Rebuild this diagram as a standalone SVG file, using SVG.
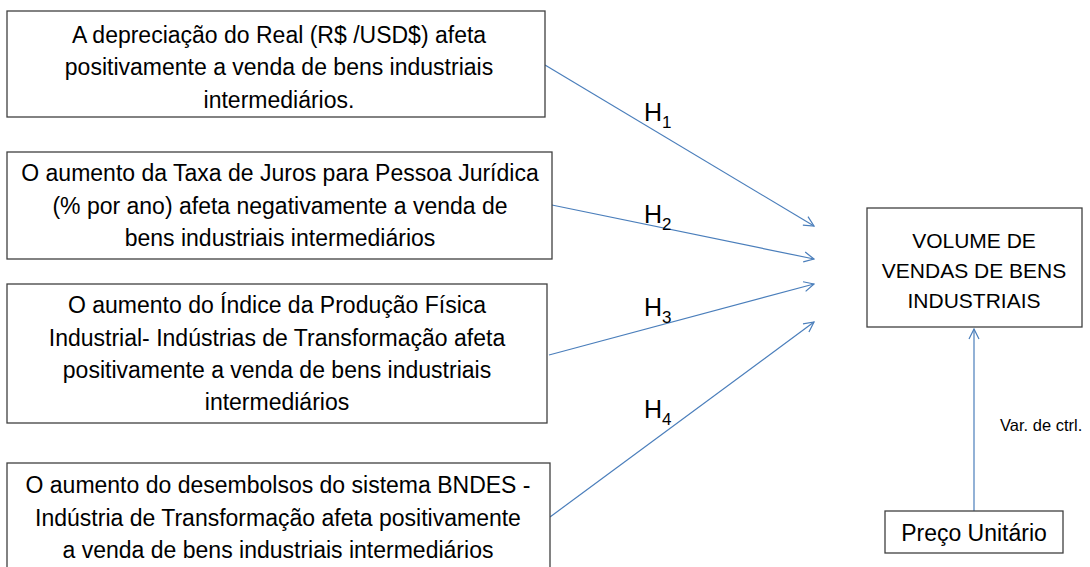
<svg xmlns="http://www.w3.org/2000/svg" width="1090" height="567" viewBox="0 0 1090 567">
<defs>
<style>
.box{fill:#fff;stroke:#404040;stroke-width:1.3}
.t{font-family:"Liberation Sans",Arial,sans-serif;font-size:23px;fill:#000;text-anchor:middle}
.v{font-size:21px}
.h{font-family:"Liberation Sans",Arial,sans-serif;font-size:25px;fill:#000}
.s{font-size:17px}
.c{stroke:#4a7ebb;stroke-width:1.2;fill:none;marker-end:url(#ah)}
</style>
<marker id="ah" viewBox="0 0 12 12" refX="11" refY="6" markerWidth="12" markerHeight="12" markerUnits="userSpaceOnUse" orient="auto">
<path d="M1,1 L11,6 L1,11" fill="none" stroke="#4a7ebb" stroke-width="1.2"/>
</marker>
</defs>
<rect width="1090" height="567" fill="#fff"/>
<g id="connectors">
<line class="c" x1="545" y1="65" x2="814" y2="226"/>
<line class="c" x1="547" y1="204" x2="814" y2="259"/>
<line class="c" x1="549" y1="355" x2="814" y2="284"/>
<line class="c" x1="550" y1="517" x2="814" y2="322"/>
<line class="c" x1="974" y1="511" x2="974" y2="329"/>
<text class="h" x="644" y="121">H<tspan class="s" dy="7">1</tspan></text>
<text class="h" x="644" y="223">H<tspan class="s" dy="7">2</tspan></text>
<text class="h" x="644" y="316">H<tspan class="s" dy="7">3</tspan></text>
<text class="h" x="644" y="418">H<tspan class="s" dy="7">4</tspan></text>
<text x="1000" y="431" style="font-family:'Liberation Sans',Arial,sans-serif;font-size:16.5px;fill:#000">Var. de ctrl.</text>
</g>
<g id="n1">
<rect class="box" x="7" y="11" width="538" height="106"/>
<text class="t" x="279" y="43">A depreciação do Real (R$ /USD$) afeta</text>
<text class="t" x="279" y="75">positivamente a venda de bens industriais</text>
<text class="t" x="279" y="108">intermediários.</text>
</g>
<g id="n2">
<rect class="box" x="7" y="152" width="545" height="107"/>
<text class="t" x="280" y="181">O aumento da Taxa de Juros para Pessoa Jurídica</text>
<text class="t" x="280" y="214">(% por ano) afeta negativamente a venda de</text>
<text class="t" x="280" y="246">bens industriais intermediários</text>
</g>
<g id="n3">
<rect class="box" x="7" y="284" width="540" height="139"/>
<text class="t" x="277" y="313">O aumento do Índice da Produção Física</text>
<text class="t" x="277" y="346">Industrial- Indústrias de Transformação afeta</text>
<text class="t" x="277" y="378">positivamente a venda de bens industriais</text>
<text class="t" x="277" y="410">intermediários</text>
</g>
<g id="n4">
<rect class="box" x="7" y="463" width="543" height="110"/>
<text class="t" x="278" y="493">O aumento do desembolsos do sistema BNDES -</text>
<text class="t" x="278" y="526">Indústria de Transformação afeta positivamente</text>
<text class="t" x="278" y="558">a venda de bens industriais intermediários</text>
</g>
<g id="n5">
<rect class="box" x="867" y="208" width="215" height="119"/>
<text class="t v" x="974" y="248">VOLUME DE</text>
<text class="t v" x="974" y="278">VENDAS DE BENS</text>
<text class="t v" x="974" y="308">INDUSTRIAIS</text>
</g>
<g id="n6">
<rect class="box" x="885" y="511" width="178" height="42"/>
<text class="t" x="974" y="541">Preço Unitário</text>
</g>
</svg>
